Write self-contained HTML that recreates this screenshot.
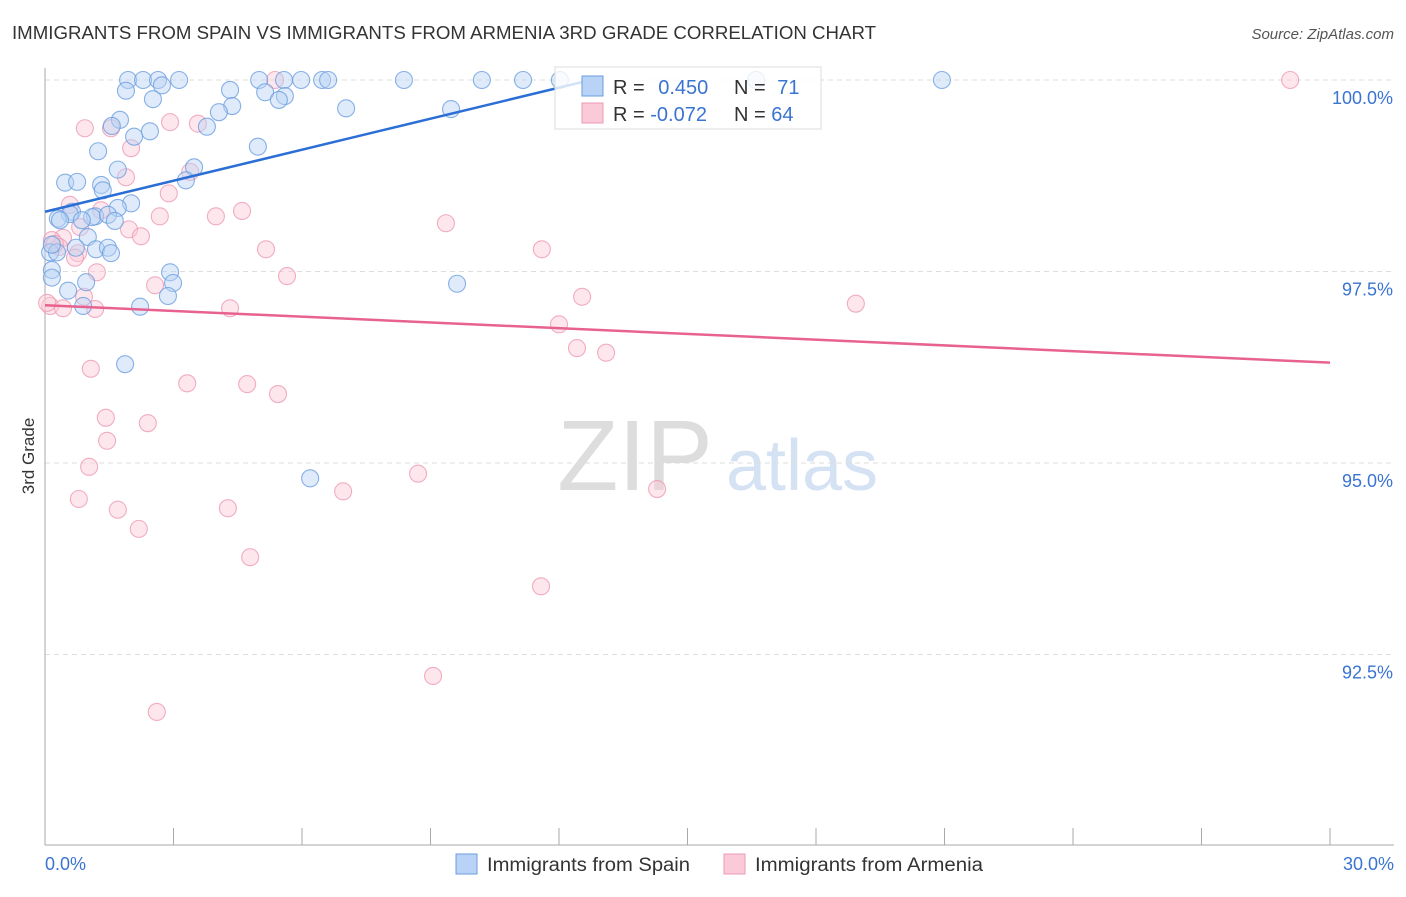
<!DOCTYPE html>
<html><head><meta charset="utf-8"><style>
body{margin:0;background:#fff;font-family:"Liberation Sans",sans-serif;}
svg text{font-family:"Liberation Sans",sans-serif;}
</style></head><body>
<svg id="chart" width="1406" height="892" xmlns="http://www.w3.org/2000/svg">
<text x="12" y="39" font-size="18" fill="#333" textLength="864" lengthAdjust="spacingAndGlyphs">IMMIGRANTS FROM SPAIN VS IMMIGRANTS FROM ARMENIA 3RD GRADE CORRELATION CHART</text>
<text x="1394" y="39" font-size="15" fill="#555" font-style="italic" text-anchor="end">Source: ZipAtlas.com</text>
<text x="34" y="456" font-size="17" fill="#333" text-anchor="middle" transform="rotate(-90 34 456)">3rd Grade</text>
<g>
<text x="635" y="490" font-size="100" fill="#ddd" font-family="Liberation Serif" text-anchor="middle">ZIP</text>
<text x="802" y="490" font-size="72" fill="#d4e2f4" text-anchor="middle">atlas</text>
</g>
<g id="grid"></g><g id="axes"></g><g id="pts"></g><g id="lines"></g>
<g>
<rect x="555" y="67" width="266" height="62" fill="#fff" fill-opacity="0.8" stroke="#ddd"/>
<rect x="582" y="76" width="21" height="20" fill="#b8d3f5" stroke="#6b9de0"/>
<rect x="582" y="103" width="21" height="20" fill="#fbcad8" stroke="#ee9ab4"/>
<text x="613" y="94" font-size="20" fill="#333">R = <tspan fill="#3a74d1" dx="8">0.450</tspan></text>
<text x="734" y="94" font-size="20" fill="#333">N = <tspan fill="#3a74d1" dx="6">71</tspan></text>
<text x="613" y="121" font-size="20" fill="#333">R = <tspan fill="#3a74d1">-0.072</tspan></text>
<text x="734" y="121" font-size="20" fill="#333">N = <tspan fill="#3a74d1">64</tspan></text>
</g>
<g>
<rect x="456" y="854" width="21" height="20" fill="#b8d3f5" stroke="#6b9de0"/>
<text x="487" y="871" font-size="19" fill="#333" textLength="203" lengthAdjust="spacingAndGlyphs">Immigrants from Spain</text>
<rect x="724" y="854" width="21" height="20" fill="#fbcad8" stroke="#ee9ab4"/>
<text x="755" y="871" font-size="19" fill="#333" textLength="228" lengthAdjust="spacingAndGlyphs">Immigrants from Armenia</text>
</g>
</svg>
<script>
const spainX=[1.94,2.29,2.64,3.13,5.00,5.58,5.98,6.47,6.61,8.38,10.20,11.16,12.02,16.60,20.94,1.89,2.73,4.32,5.14,5.60,2.52,5.46,4.37,7.03,9.48,4.06,1.75,3.78,2.45,2.08,1.56,4.97,1.24,3.48,1.70,0.47,0.75,1.31,3.29,1.35,2.01,0.63,0.58,1.17,1.70,0.30,1.10,1.47,0.86,1.00,0.72,1.19,1.47,1.54,0.12,0.28,0.16,0.16,0.96,2.92,2.99,2.87,0.54,0.89,2.22,9.62,1.87,6.19,0.16,0.35,1.63];
const spainY=[100,100,100,100,100,100,100,100,100,100,100,100,100,100,100,99.86,99.93,99.87,99.84,99.79,99.75,99.74,99.66,99.63,99.62,99.58,99.48,99.39,99.33,99.26,99.40,99.13,99.07,98.86,98.83,98.66,98.67,98.63,98.69,98.56,98.39,98.28,98.25,98.22,98.33,98.19,98.21,98.24,98.17,97.95,97.81,97.79,97.81,97.74,97.75,97.75,97.52,97.42,97.36,97.49,97.35,97.18,97.25,97.05,97.04,97.34,96.29,94.80,97.85,98.17,98.16];
const armX=[5.37,29.07,0.93,1.54,2.92,3.57,2.01,1.89,3.39,2.89,0.58,1.31,2.68,3.99,4.60,9.36,1.96,2.24,0.82,0.42,0.16,0.77,0.70,5.16,11.60,1.21,5.65,2.57,0.91,12.54,0.12,0.42,1.17,4.32,18.93,12.00,12.42,13.10,1.07,3.32,4.72,5.44,1.42,2.40,1.45,1.03,8.71,6.96,14.29,0.79,1.70,4.27,2.19,4.79,11.58,9.06,2.61,0.05,0.33,0.23];
const armY=[100,100,99.37,99.37,99.45,99.43,99.11,98.73,98.80,98.52,98.37,98.30,98.22,98.22,98.29,98.13,98.05,97.96,98.08,97.94,97.91,97.74,97.68,97.79,97.79,97.49,97.44,97.32,97.17,97.17,97.05,97.02,97.01,97.02,97.08,96.81,96.50,96.44,96.23,96.04,96.03,95.90,95.59,95.52,95.29,94.95,94.86,94.63,94.66,94.53,94.39,94.41,94.14,93.77,93.39,92.22,91.75,97.09,97.82,97.86];
const yTicks=[100,97.5,95,92.5];
const yTickLabels=["100.0%","97.5%","95.0%","92.5%"];
const spainTrend=[98.28,0.135,12.9];
const armTrend=[97.06,-0.025,30];
const NS="http://www.w3.org/2000/svg";
const X=v=>45+v/30*1285, Y=v=>80+(100-v)*76.6;
function mk(parent,tag,attrs){const e=document.createElementNS(NS,tag);for(const k in attrs)e.setAttribute(k,attrs[k]);document.getElementById(parent).appendChild(e);return e;}
yTicks.forEach((t,i)=>{
 const l=mk('grid','line',{x1:45,x2:1394,y1:Y(t),y2:Y(t),stroke:'#ddd','stroke-dasharray':'5,4'});
 
 
 const tx=mk('grid','text',{x:1393,y:Y(t)+24,'font-size':18,fill:'#3a74d1','text-anchor':'end'});
 tx.textContent=yTickLabels[i];
 
 
});
let a=mk('axes','line',{x1:45,x2:45,y1:68,y2:845,stroke:'#aaa'});


a=mk('axes','line',{x1:45,x2:1394,y1:845,y2:845,stroke:'#aaa'});


for(let i=0;i<=10;i++){const t=mk('axes','line',{x1:X(i*3),x2:X(i*3),y1:828,y2:845,stroke:'#aaa'});
 
 }
let lx=mk('axes','text',{x:45,y:870,'font-size':18,fill:'#3a74d1'});lx.textContent='0.0%';


lx=mk('axes','text',{x:1394,y:870,'font-size':18,fill:'#3a74d1','text-anchor':'end'});lx.textContent='30.0%';


function pts(xs,ys,fill,stroke,name){xs.forEach((x,i)=>{const c=mk('pts','circle',{cx:X(x),cy:Y(ys[i]),r:8.5,fill:fill,'fill-opacity':0.45,stroke:stroke,'stroke-opacity':0.8,'stroke-width':1.1});
 
 });}
pts(armX,armY,'#fbcad8','#ee9ab4','armenia-point');
pts(spainX,spainY,'#b8d3f5','#6b9de0','spain-point');
function trend(tr,col,name){const l=mk('lines','line',{x1:X(0),y1:Y(tr[0]),x2:X(tr[2]),y2:Y(tr[0]+tr[1]*tr[2]),stroke:col,'stroke-width':2.5});
 
 }
trend(spainTrend,'#2b6fd6','spain-trend-line');
trend(armTrend,'#e8628f','armenia-trend-line');
</script>
</body></html>
